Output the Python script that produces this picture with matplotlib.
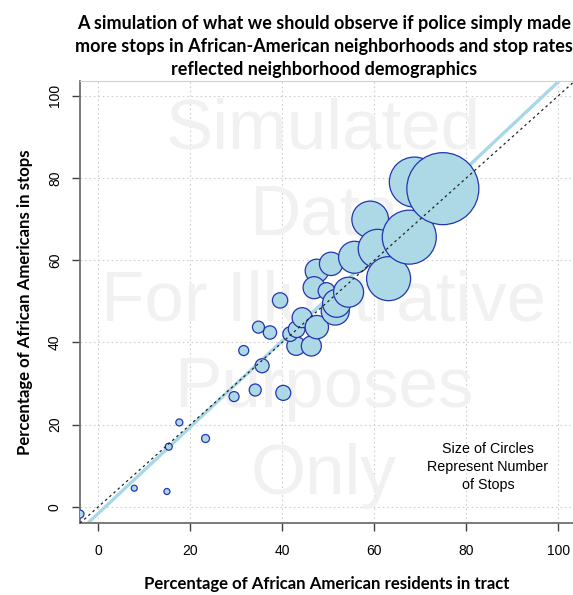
import numpy as np
import matplotlib
matplotlib.use("Agg")
import matplotlib.pyplot as plt

# ── Data ─────────────────────────────────────────────────────────────────────
pct_residents = [-4.0, 7.8, 14.9, 15.3, 17.6, 23.3, 29.5, 34.1, 40.2, 35.6,
                 31.6, 37.3, 34.8, 39.5, 43.0, 46.3, 41.7, 43.1, 44.3, 47.5,
                 47.5, 46.9, 49.6, 50.6, 51.5, 51.8, 54.4, 55.7, 59.1, 60.7,
                 63.1, 67.6, 68.7, 74.9]
pct_stops = [-1.8, 4.5, 3.7, 14.6, 20.5, 16.6, 26.8, 28.4, 27.7, 34.3,
             38.0, 42.4, 43.7, 50.2, 39.1, 39.1, 42.0, 43.2, 46.0, 43.7,
             57.4, 53.3, 52.5, 59.1, 47.6, 49.5, 52.2, 60.7, 69.9, 62.8,
             55.5, 65.6, 79.0, 77.4]
n_stops = [48, 36, 36, 42, 42, 48, 60, 72, 90, 84,
           60, 80, 72, 92, 112, 120, 88, 100, 120, 140,
           140, 132, 100, 140, 168, 168, 180, 192, 220, 232,
           264, 324, 300, 432]
fit_intercept = -1.6
fit_slope = 1.05

ticks = [0, 20, 40, 60, 80, 100]
watermark = "Simulated\nData\nFor Illustrative\nPurposes\nOnly"
title = ("A simulation of what we should observe if police simply made\n"
         "more stops in African-American neighborhoods and stop rates\n"
         "reflected neighborhood demographics")

# ── Figure ───────────────────────────────────────────────────────────────────
DPI = 100
fig = plt.figure(figsize=(5.73, 5.95), dpi=DPI)
ax = fig.add_axes([80 / 573, 1 - 523.3 / 595, 1 - 80 / 573, (523.3 - 81) / 595])
ax.set_xlim(-4, 103.2)
ax.set_ylim(-4.04, 103.6)

ax.grid(True, color='#cfcfcf', linestyle=(0, (1.5, 2.5)), linewidth=0.8)
ax.set_axisbelow(True)

# watermark
ax.text(49, 49.6, watermark, ha='center', va='center', fontsize=51,
        family='Liberation Sans', color='#f1f1f1', linespacing=1.4, zorder=1)

# fitted line (under circles)
xx = np.array([-4, 104])
ax.plot(xx, fit_intercept + fit_slope * xx, color='#a8d8e8', lw=2.4, zorder=2)

# circles, radius proportional to number of stops
r_pt = np.array(n_stops) / 12 * 72 / DPI
ax.scatter(pct_residents, pct_stops, s=(2 * r_pt) ** 2, facecolor='#add8e6',
           edgecolor='#2336b0', linewidth=0.9, zorder=3, clip_on=True)

# identity line
ax.plot(xx, xx, color='#222222', lw=0.9, linestyle=(0, (2, 2.5)), zorder=4)

ax.text(84.7, 9.7, "Size of Circles\nRepresent Number\nof Stops",
        ha='center', va='center', fontsize=10.3, family='Liberation Sans',
        linespacing=1.35, zorder=5)

# axes styling (R base look)
for s in ['left', 'bottom']:
    ax.spines[s].set_color('#707070')
    ax.spines[s].set_linewidth(1.3)
ax.spines['top'].set_color('#d0d0d0')
ax.spines['right'].set_visible(False)
ax.set_xticks(ticks)
ax.set_yticks(ticks)
ax.tick_params(length=6, width=1, color='#404040', labelsize=10, pad=9)
ax.tick_params(axis='y', pad=7)
for lab in ax.get_xticklabels() + ax.get_yticklabels():
    lab.set_family('Liberation Sans')
for lab in ax.get_yticklabels():
    lab.set_rotation(90)
    lab.set_va('center')

ax.set_xlabel("Percentage of African American residents in tract",
              family='Lato', fontweight='bold', fontsize=12.1, labelpad=13)
ax.set_ylabel("Percentage of African Americans in stops",
              family='Lato', fontweight='bold', fontsize=12.1, labelpad=11)

fig.text(324 / 573, 1 - 15 / 595, title, ha='center', va='top',
         family='Lato', fontweight='bold', fontsize=13, linespacing=1.42)

fig.savefig('out.png', dpi=DPI)
